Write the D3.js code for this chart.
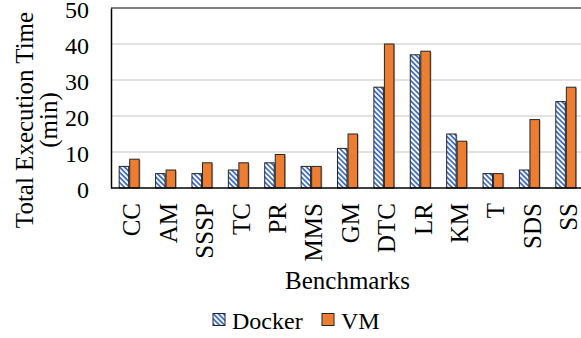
<!DOCTYPE html>
<html><head><meta charset="utf-8">
<script src="https://cdn.jsdelivr.net/npm/d3@7"></script>
<style>body{margin:0;background:#fff}svg{display:block}svg text{font-family:'Liberation Serif','Times New Roman',Tinos,'DejaVu Serif',serif !important;fill:#000}</style>
</head><body><svg id="c" width="581" height="338"></svg>
<script>
const categories=["CC","AM","SSSP","TC","PR","MMS","GM","DTC","LR","KM","T","SDS","SS"];
const seriesNames=["Docker","VM"];
const docker=[6,4,4,5,7,6,11,28,37,15,4,5,24];
const vm=[8,5,7,7,9.3,6,15,40,38,13,4,19,28];
const yTicks=[0,10,20,30,40,50];
const yTitle=["Total Execution Time","(min)"];
const xTitle="Benchmarks";

const svg=d3.select("#c");
const pLeft=111,pRight=584,pTop=8,pBottom=188;
const defs=svg.append("defs");
const pat=defs.append("pattern").attr("id","hatch").attr("patternUnits","userSpaceOnUse")
 .attr("width",3.6).attr("height",3.6).attr("patternTransform","rotate(-45)");
pat.append("rect").attr("width",3.6).attr("height",3.6).attr("fill","#fff");
pat.append("rect").attr("width",1.8).attr("height",3.6).attr("fill","#4472C4");

const x=d3.scaleBand().domain(categories).range([pLeft,pRight]).paddingInner(0.45).paddingOuter(0.225);
const xs=d3.scaleBand().domain(seriesNames).range([0,x.bandwidth()]).paddingInner(0.1);
const y=d3.scaleLinear().domain([0,50]).range([pBottom,pTop]);

svg.append("g").selectAll("line").data(yTicks.filter(d=>d>0&&d<50)).join("line")
 .attr("x1",pLeft).attr("x2",581).attr("y1",d=>y(d)).attr("y2",d=>y(d))
 .attr("stroke","#d9d9d9").attr("stroke-width",1.5);
svg.append("line").attr("x1",pLeft).attr("x2",581).attr("y1",y(50)).attr("y2",y(50))
 .attr("stroke","#7f7f7f").attr("stroke-width",2);

const colors={Docker:"url(#hatch)",VM:"#ED7D31"};
const data=categories.map((c,i)=>({c,vals:[{s:"Docker",v:docker[i]},{s:"VM",v:vm[i]}]}));
const g=svg.append("g").selectAll("g").data(data).join("g").attr("transform",d=>`translate(${x(d.c)},0)`);
// soft shadow
g.selectAll("rect.sh").data(d=>d.vals).join("rect").attr("class","sh")
 .attr("x",d=>xs(d.s)+1.2).attr("width",xs.bandwidth())
 .attr("y",d=>y(d.v)+0.8).attr("height",d=>y(0)-y(d.v)-0.8)
 .attr("fill","#8c8c8c").attr("opacity",0.7);
g.selectAll("rect.bar").data(d=>d.vals).join("rect").attr("class","bar")
 .attr("x",d=>xs(d.s)).attr("width",xs.bandwidth())
 .attr("y",d=>y(d.v)).attr("height",d=>y(0)-y(d.v))
 .attr("fill",d=>colors[d.s]).attr("stroke","#262626").attr("stroke-width",1);

const yAxis=d3.axisLeft(y).tickValues(yTicks).tickSize(0).tickPadding(22);
const ya=svg.append("g").attr("transform",`translate(${pLeft},0)`).call(yAxis).attr("font-family",null).attr("font-size",24);
ya.select(".domain").attr("stroke","#000").attr("stroke-width",1.5);
ya.selectAll("text").attr("dy","0.4em");

const xAxis=d3.axisBottom(x).tickSize(0);
const xa=svg.append("g").attr("transform",`translate(0,${pBottom})`).call(xAxis).attr("font-family",null).attr("font-size",25);
xa.select(".domain").attr("stroke","#000").attr("stroke-width",1.5).attr("d",`M${pLeft},0H581`);
xa.selectAll("text").attr("text-anchor","end").attr("transform","rotate(-90)").attr("x",-15).attr("y",0).attr("dy","0.45em").attr("dx",0);

svg.append("text").attr("transform","translate(33,120) rotate(-90)").attr("text-anchor","middle").attr("font-size",25).text(yTitle[0]);
svg.append("text").attr("transform","translate(57,120) rotate(-90)").attr("text-anchor","middle").attr("font-size",25).text(yTitle[1]);
svg.append("text").attr("x",(pLeft+pRight)/2).attr("y",289).attr("text-anchor","middle").attr("font-size",25).text(xTitle);

const leg=[{s:"Docker",sx:213,tx:232},{s:"VM",sx:322,tx:341}];
leg.forEach(l=>{
 svg.append("rect").attr("x",l.sx).attr("y",313.5).attr("width",12).attr("height",12).attr("fill",colors[l.s]).attr("stroke","#262626").attr("stroke-width",1);
 svg.append("text").attr("x",l.tx).attr("y",329).attr("font-size",24).text(l.s);
});
</script></body></html>
